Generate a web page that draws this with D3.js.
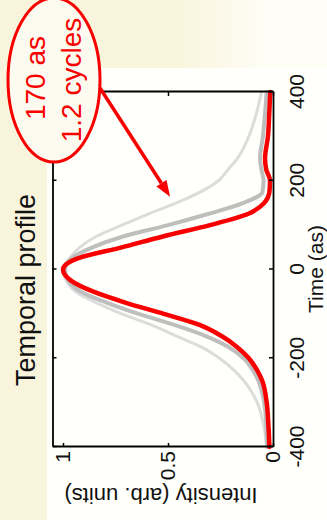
<!DOCTYPE html>
<html>
<head>
<meta charset="utf-8">
<script src="https://cdn.jsdelivr.net/npm/d3@7"></script>
<style>
  html, body { margin: 0; padding: 0; overflow: hidden; background: #f9f5dd; }
  svg { display: block; }
</style>
</head>
<body>
<svg id="fig" width="327" height="520"></svg>
<script>
// ---- data -------------------------------------------------------------
const timeAs = [-400, -350, -300, -250, -225, -200, -175, -150, -125, -100, -75, -50, -25,
                0, 25, 50, 75, 100, 125, 150, 175, 200, 225, 250, 300, 350, 400];

// retrieved pulse (red) and two comparison profiles (grey)
const redProfile = [0.017, 0.022, 0.030, 0.052, 0.078, 0.115, 0.17, 0.245, 0.35, 0.52, 0.70, 0.855, 0.962,
                    1.0, 0.93, 0.72, 0.52, 0.30, 0.12, 0.042, 0.017, 0.014, 0.032, 0.038, 0.024, 0.018, 0.013];
const grayProfile = [0.028, 0.032, 0.042, 0.07, 0.098, 0.14, 0.21, 0.32, 0.47, 0.64, 0.79, 0.915, 0.975,
                     0.99, 0.96, 0.86, 0.71, 0.50, 0.31, 0.14, 0.05, 0.045, 0.055, 0.062, 0.048, 0.038, 0.03];
const lightGrayProfile = [0.03, 0.045, 0.075, 0.14, 0.19, 0.255, 0.34, 0.46, 0.58, 0.72, 0.84, 0.94, 0.985,
                          1.0, 0.97, 0.92, 0.84, 0.72, 0.595, 0.46, 0.345, 0.26, 0.215, 0.17, 0.115, 0.08, 0.055];

const timeTicks = [-400, -200, 0, 200, 400];
const timeTickLabels = ["-400", "-200", "0", "200", "400"];
const intensityTicks = [0, 0.5, 1];
const intensityTickLabels = ["0", "0.5", "1"];

const titleText = "Temporal profile";
const timeLabel = "Time (as)";
const intensityLabel = "Intensity (arb. units)";
const calloutLines = ["170 as", "1.2 cycles"];
// arrow from the callout to the pulse, in data units
const arrowFrom = { time: 409, intensity: 0.824 };
const arrowTo = { time: 164, intensity: 0.49 };

// ---- setup ------------------------------------------------------------
const W = 327, H = 520;
const FONT = "'Liberation Sans', Arial, Helvetica, sans-serif";
const RED = "#f80000";
const svg = d3.select("#fig");

// slide background: cream strip fading to white, white figure panel
const defs = svg.append("defs");
const bg = defs.append("linearGradient").attr("id", "slideBg")
  .attr("x1", "0").attr("x2", "1").attr("y1", "0").attr("y2", "0");
bg.append("stop").attr("offset", "0.55").attr("stop-color", "#f9f5dd");
bg.append("stop").attr("offset", "0.8").attr("stop-color", "#fefdf5");
svg.append("rect").attr("width", W).attr("height", H).attr("fill", "url(#slideBg)");
svg.append("rect").attr("x", 47).attr("y", 68).attr("width", W - 47).attr("height", H - 68)
  .attr("fill", "#fffffb");

// the whole figure is laid out sideways: draw it normally, then turn it -90°
const g = svg.append("g").attr("transform", `translate(0,${H}) rotate(-90)`);

const x = d3.scaleLinear().domain([-400, 400]).range([73, 428]);
const y = d3.scaleLinear().domain([0, 1.05]).range([273, 52.5]);

// ---- curves -----------------------------------------------------------
const line = d3.line()
  .x((d, i) => x(timeAs[i]))
  .y(d => y(d))
  .curve(d3.curveMonotoneX);

[
  { values: lightGrayProfile, color: "#dcdcdc", width: 3 },
  { values: grayProfile, color: "#bebebe", width: 4 },
  { values: redProfile, color: RED, width: 4.5 }
].forEach(s => {
  g.append("path")
    .attr("d", line(s.values))
    .attr("fill", "none")
    .attr("stroke", s.color)
    .attr("stroke-width", s.width)
    .attr("stroke-linejoin", "round")
    .attr("stroke-linecap", "round");
});

// ---- axes (boxed, ticks pointing inward) ------------------------------
function styleAxis(sel) {
  sel.attr("font-family", FONT).attr("font-size", 21);
  sel.select(".domain").attr("stroke", "#000").attr("stroke-width", 1.8);
  sel.selectAll(".tick line").attr("stroke", "#000").attr("stroke-width", 1.5);
  sel.selectAll(".tick text").attr("fill", "#111");
}

g.append("g")
  .attr("transform", `translate(0,${y(0)})`)
  .call(d3.axisBottom(x).tickValues(timeTicks).tickFormat((d, i) => timeTickLabels[i])
    .tickSizeInner(-4).tickSizeOuter(0).tickPadding(16))
  .call(styleAxis);

g.append("g")
  .attr("transform", `translate(0,${y(1.05)})`)
  .call(d3.axisTop(x).tickValues(timeTicks).tickFormat("")
    .tickSizeInner(-4).tickSizeOuter(0))
  .call(styleAxis);

g.append("g")
  .attr("transform", `translate(${x(-400)},0)`)
  .call(d3.axisLeft(y).tickValues(intensityTicks).tickFormat((d, i) => intensityTickLabels[i])
    .tickSizeInner(-4).tickSizeOuter(0).tickPadding(4))
  .call(styleAxis);

g.append("g")
  .attr("transform", `translate(${x(400)},0)`)
  .call(d3.axisRight(y).tickValues(intensityTicks).tickFormat("")
    .tickSizeInner(-4).tickSizeOuter(0))
  .call(styleAxis);

// ---- labels -----------------------------------------------------------
g.append("text")
  .attr("x", 230).attr("y", 35)
  .attr("text-anchor", "middle")
  .attr("font-family", FONT).attr("font-size", 27).attr("fill", "#111")
  .text(titleText);

g.append("text")
  .attr("x", 251).attr("y", 323)
  .attr("text-anchor", "middle")
  .attr("font-family", FONT).attr("font-size", 21).attr("fill", "#111")
  .text(timeLabel);

g.append("text")
  .attr("transform", "translate(32,161) rotate(-90)")
  .attr("text-anchor", "middle")
  .attr("font-family", FONT).attr("font-size", 22).attr("fill", "#111")
  .text(intensityLabel);

// ---- callout ----------------------------------------------------------
g.append("ellipse")
  .attr("cx", 440).attr("cy", 54).attr("rx", 82).attr("ry", 46)
  .attr("fill", "#fdfbef")
  .attr("stroke", RED).attr("stroke-width", 3);

g.selectAll("text.callout")
  .data(calloutLines)
  .join("text")
  .attr("class", "callout")
  .attr("x", (d, i) => [442, 440][i])
  .attr("y", (d, i) => [45, 81][i])
  .attr("text-anchor", "middle")
  .attr("font-family", FONT).attr("font-size", 28).attr("fill", RED)
  .text(d => d);

const ax0 = x(arrowFrom.time), ay0 = y(arrowFrom.intensity);
const ax1 = x(arrowTo.time), ay1 = y(arrowTo.intensity);
const len = Math.hypot(ax1 - ax0, ay1 - ay0);
const ux = (ax1 - ax0) / len, uy = (ay1 - ay0) / len;
const headLen = 16, headHalf = 6;
const bx = ax1 - ux * headLen, by = ay1 - uy * headLen;

g.append("line")
  .attr("x1", ax0).attr("y1", ay0).attr("x2", bx).attr("y2", by)
  .attr("stroke", RED).attr("stroke-width", 3.5);

g.append("path")
  .attr("d", `M${ax1},${ay1} L${bx - uy * headHalf},${by + ux * headHalf} L${bx + uy * headHalf},${by - ux * headHalf} Z`)
  .attr("fill", RED);
</script>
</body>
</html>
